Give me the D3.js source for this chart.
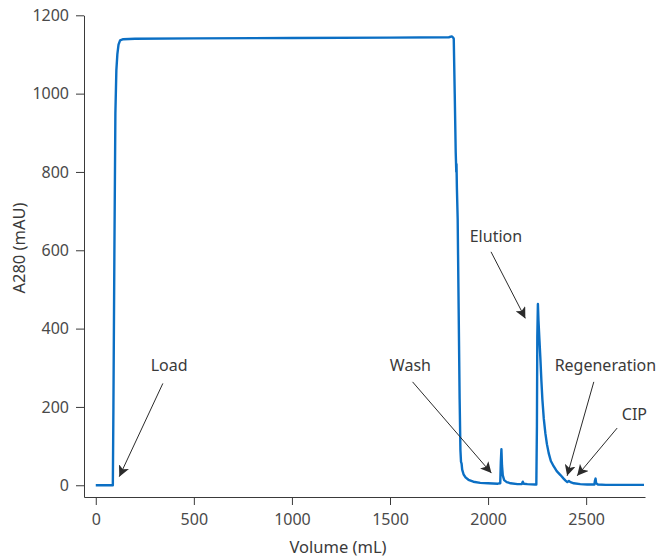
<!DOCTYPE html>
<html>
<head>
<meta charset="utf-8">
<script src="https://cdn.jsdelivr.net/npm/d3@7"></script>
<style>
  body { margin: 0; background: #fff; }
  svg { display: block; font-family: "Noto Sans", sans-serif; }
  .axis path, .axis line { stroke: #3a3a3a; }
  .axis text { fill: #4a4a4a; font-size: 16px; font-family: "Noto Sans", sans-serif; }
</style>
</head>
<body>
<svg width="660" height="558"></svg>
<script>
// chromatogram trace, volume (mL) vs A280 (mAU)
var volume = [0, 87, 90, 95, 100, 105, 110, 116, 124, 140, 200, 500, 1000, 1500, 1800, 1815, 1822,
  1825, 1830, 1835, 1838, 1839, 1841, 1845, 1850, 1855, 1859, 1862, 1865, 1868, 1875, 1885, 1900,
  1925, 1960, 2000, 2050, 2062, 2065, 2068, 2071, 2075, 2082, 2095, 2115, 2150, 2172, 2177, 2182,
  2200, 2240, 2246, 2249, 2251, 2254, 2257, 2262, 2267, 2272, 2277, 2284, 2292, 2300, 2309, 2320,
  2335, 2350, 2369, 2385, 2395, 2404, 2412, 2420, 2437, 2470, 2505, 2542, 2545, 2548, 2551, 2560,
  2600, 2700, 2795];
var a280 = [0, 0, 200, 600, 950, 1060, 1100, 1125, 1136, 1139, 1140, 1141, 1142, 1143, 1144, 1146, 1143,
  1140, 1000, 850, 800, 820, 760, 680, 450, 220, 90, 60, 55, 40, 28, 20, 14,
  9, 6, 5, 4, 5, 60, 92, 50, 25, 13, 8, 5, 3, 3, 9, 4,
  3, 2, 2, 150, 380, 463, 420, 370, 320, 265, 218, 170, 133, 105, 82, 62,
  48, 36, 26, 17, 12, 8, 11, 8, 5, 3, 2, 2, 12, 17, 5, 2,
  1, 1, 1];

var xTicks = [0, 500, 1000, 1500, 2000, 2500];
var yTicks = [0, 200, 400, 600, 800, 1000, 1200];

// annotations: label, arrow tip (volume, a280), arrow tail, label anchor
var noteLabels = ["Load", "Wash", "Elution", "Regeneration", "CIP"];
var noteTip = [[120, 22], [2017, 31], [2190, 426], [2403, 24], [2454, 24]];
var noteTail = [[342, 260], [1615, 264], [2015, 596], [2539, 264], [2658, 146]];
var noteText = [[374, 305], [1604, 305], [2040, 636], [2598, 305], [2746, 182]];

var svg = d3.select("svg");

var x = d3.scaleLinear().domain([-60, 2800]).range([84, 645]);
var y = d3.scaleLinear().domain([-30, 1200]).range([497, 15.3]);

svg.append("defs").append("marker")
    .attr("id", "head")
    .attr("viewBox", "0 0 10 10")
    .attr("refX", 10).attr("refY", 5)
    .attr("markerWidth", 11).attr("markerHeight", 11)
    .attr("markerUnits", "userSpaceOnUse")
    .attr("orient", "auto")
  .append("path")
    .attr("d", "M0,0 L10,5 L0,10 L2.5,5 Z")
    .attr("fill", "#2b2b2b");

svg.append("g")
    .attr("class", "axis")
    .attr("transform", "translate(0,497)")
    .call(d3.axisBottom(x).tickValues(xTicks).tickFormat(d3.format("d"))
      .tickSize(8).tickSizeOuter(0).tickPadding(9));

svg.append("g")
    .attr("class", "axis")
    .attr("transform", "translate(84,0)")
    .call(d3.axisLeft(y).tickValues(yTicks).tickFormat(d3.format("d"))
      .tickSize(8).tickSizeOuter(0).tickPadding(7));

svg.selectAll(".axis text").attr("font-family", null);

var line = d3.line()
    .x(function(d, i) { return x(volume[i]); })
    .y(function(d) { return y(d); });

svg.append("path")
    .datum(a280)
    .attr("fill", "none")
    .attr("stroke", "#0b6fc4")
    .attr("stroke-width", 2.4)
    .attr("stroke-linejoin", "round")
    .attr("d", line);

var notes = svg.append("g").selectAll("g")
  .data(noteLabels)
  .enter().append("g");

notes.append("line")
    .attr("x1", function(d, i) { return x(noteTail[i][0]); })
    .attr("y1", function(d, i) { return y(noteTail[i][1]); })
    .attr("x2", function(d, i) { return x(noteTip[i][0]); })
    .attr("y2", function(d, i) { return y(noteTip[i][1]); })
    .attr("stroke", "#2b2b2b")
    .attr("stroke-width", 1)
    .attr("marker-end", "url(#head)");

notes.append("text")
    .attr("x", function(d, i) { return x(noteText[i][0]); })
    .attr("y", function(d, i) { return y(noteText[i][1]); })
    .attr("dy", "0.35em")
    .attr("text-anchor", "middle")
    .attr("fill", "#3a3a3a")
    .attr("font-size", 16)
    .text(function(d) { return d; });

svg.append("text")
    .attr("x", 338)
    .attr("y", 553)
    .attr("text-anchor", "middle")
    .attr("fill", "#3a3a3a")
    .attr("font-size", 16.5)
    .text("Volume (mL)");

svg.append("text")
    .attr("transform", "translate(25,248) rotate(-90)")
    .attr("text-anchor", "middle")
    .attr("fill", "#3a3a3a")
    .attr("font-size", 16.5)
    .text("A280 (mAU)");
</script>
</body>
</html>
